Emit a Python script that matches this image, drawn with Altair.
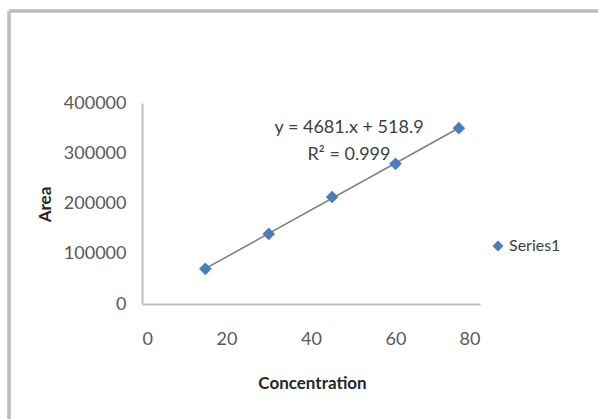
import altair as alt
import pandas as pd

concentration = [15, 30, 45, 60, 75]
area = [70000, 139500, 213000, 279000, 350000]
series = ["Series1"] * 5
eq_lines = ["y = 4681.x + 518.9", "R² = 0.999"]
eq_x = [49, 49]
eq_y = [350000, 296500]

df = pd.DataFrame({"Concentration": concentration, "Area": area, "Series": series})
eq = pd.DataFrame({"t": eq_lines, "x": eq_x, "y": eq_y})

font = "Lato"
xs = alt.Scale(domain=[0, 80])
ys = alt.Scale(domain=[0, 400000])

base = alt.Chart(df)

trend = base.transform_regression("Concentration", "Area").mark_line(
    color="#7f7f7f", strokeWidth=1.6
).encode(x=alt.X("Concentration:Q", scale=xs), y=alt.Y("Area:Q", scale=ys))

points = base.mark_point(shape="diamond", filled=True, size=160, opacity=1).encode(
    x=alt.X(
        "Concentration:Q",
        scale=xs,
        axis=alt.Axis(
            values=[0, 20, 40, 60, 80],
            format="d",
            title="Concentration",
            titleX=170,
            titleY=79,
            titleBaseline="middle",
            labelPadding=26,
        ),
    ),
    y=alt.Y(
        "Area:Q",
        scale=ys,
        axis=alt.Axis(
            values=[0, 100000, 200000, 300000, 400000],
            format="d",
            title="Area",
            titleX=-97,
            titleY=101,
            titleAlign="center",
            titleBaseline="middle",
            labelPadding=16,
        ),
    ),
    color=alt.Color(
        "Series:N",
        scale=alt.Scale(domain=["Series1"], range=["#4a7ebb"]),
        legend=alt.Legend(
            title=None,
            orient="none",
            legendX=348,
            legendY=135,
            symbolType="diamond",
            symbolSize=120,
            labelFontSize=16,
            labelFont=font,
            labelColor="#404040",
            padding=0,
            labelOffset=3,
        ),
    ),
)

text = alt.Chart(eq).mark_text(font=font, fontSize=18, color="#404040").encode(
    x=alt.X("x:Q", scale=xs), y=alt.Y("y:Q", scale=ys), text="t:N"
)

frame_top = alt.Chart(df).mark_rule(color="#bdbdbd", strokeWidth=2.5).encode(
    x=alt.value(-133), x2=alt.value(460), y=alt.value(-92)
)
frame_left = alt.Chart(df).mark_rule(color="#bdbdbd", strokeWidth=2.5).encode(
    x=alt.value(-133), y=alt.value(-92), y2=alt.value(320)
)

chart = (
    alt.layer(frame_top, frame_left, trend, points, text)
    .properties(
        width=338,
        height=201,
        autosize=alt.AutoSizeParams(type="none"),
        padding={"left": 142, "top": 103, "right": 118, "bottom": 115},
        background="white",
    )
    .configure_view(stroke=None)
    .configure_axis(
        grid=False,
        ticks=False,
        domainColor="#bfbfbf",
        domainWidth=2,
        labelFont=font,
        labelFontSize=18,
        labelColor="#595959",
        titleFont=font,
        titleFontSize=17,
        titleFontWeight="bold",
        titleColor="#262626",
    )
)

chart.save("out.html", embed_options={"renderer": "svg", "actions": False})
